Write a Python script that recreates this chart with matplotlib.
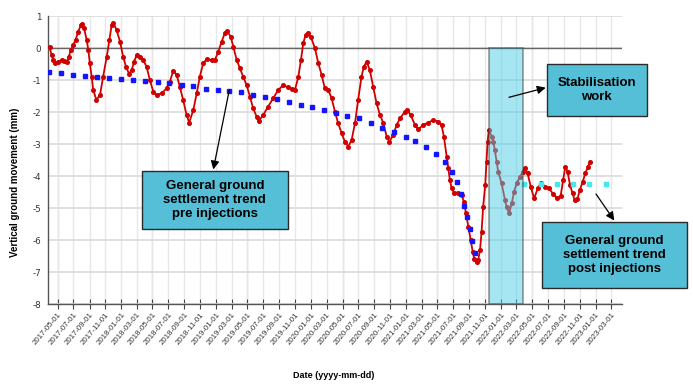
import numpy as np
import pandas as pd
import matplotlib
matplotlib.use('Agg')
import matplotlib.pyplot as plt
from matplotlib.patches import Rectangle, FancyArrowPatch

plt.rcParams['axes.unicode_minus'] = False

# Data ~~~~~~~~~~~~~~~~~~~~~~~~~~~~~~~~~~~~~~~~~~~~~~~~~~~~~~~~~~~~~~~~~~~~~~~~~~~~~~~~
start = pd.Timestamp('2017-05-01')

# measured vertical movement, days after 2017-05-01 and mm
red_day = [-31, -23, -17, -10, 2, 15, 25, 35, 43, 51, 60, 69, 79, 90, 95, 102, 112, 118, 124, 131,
           137, 149, 163, 175, 189, 199, 208, 214, 227, 240, 252, 263, 275, 285, 294, 304, 317, 329,
           342, 355, 368, 381, 400, 419, 432, 445, 458, 470, 483, 496, 506, 522, 535, 547, 560, 573,
           592, 605, 618, 631, 644, 652, 666, 676, 689, 701, 714, 727, 740, 752, 766, 774, 791, 810,
           829, 849, 868, 887, 902, 913, 926, 936, 945, 954, 962, 974, 990, 1003, 1016, 1028, 1041,
           1054, 1067, 1079, 1093, 1105, 1118, 1131, 1144, 1156, 1169, 1178, 1189, 1201, 1214, 1227,
           1240, 1253, 1266, 1276, 1291, 1304, 1317, 1336, 1345, 1358, 1375, 1387, 1406, 1426, 1445,
           1464, 1477, 1486, 1497, 1503, 1509, 1516, 1525, 1541, 1554, 1563, 1571, 1580, 1589, 1597,
           1603, 1612, 1618, 1625, 1631, 1637, 1645, 1650, 1654, 1659, 1670, 1676, 1682, 1689, 1695,
           1708, 1721, 1727, 1737, 1747, 1756, 1766, 1779, 1789, 1798, 1808, 1820, 1833, 1847, 1859,
           1876, 1891, 1907, 1922, 1935, 1945, 1953, 1962, 1971, 1981, 1989, 1999, 2009, 2020, 2030,
           2040, 2049]
red_mm = [0.02, -0.22, -0.375, -0.48, -0.43, -0.375, -0.40, -0.43, -0.27, -0.06, 0.09, 0.25, 0.51,
          0.72, 0.75, 0.61, 0.25, -0.06, -0.48, -0.9, -1.31, -1.62, -1.47, -0.9, -0.27, 0.25, 0.72,
          0.79, 0.56, 0.2, -0.27, -0.58, -0.81, -0.69, -0.43, -0.22, -0.27, -0.375, -0.58, -1.0,
          -1.36, -1.47, -1.42, -1.26, -1.05, -0.71, -0.84, -1.21, -1.625, -2.09, -2.33, -1.94, -1.42,
          -0.9, -0.48, -0.35, -0.375, -0.375, -0.115, 0.2, 0.48, 0.54, 0.35, 0.04, -0.375, -0.63,
          -0.9, -1.16, -1.52, -1.88, -2.15, -2.28, -2.09, -1.83, -1.57, -1.31, -1.16, -1.23, -1.29,
          -1.31, -0.9, -0.375, 0.15, 0.41, 0.48, 0.35, -0.01, -0.48, -0.85, -1.26, -1.31, -1.57,
          -1.99, -2.35, -2.67, -2.93, -3.08, -2.875, -2.35, -1.625, -0.9, -0.58, -0.43, -0.69, -1.21,
          -1.73, -2.09, -2.35, -2.77, -2.93, -2.72, -2.41, -2.2, -1.99, -1.94, -2.09, -2.41, -2.54,
          -2.41, -2.33, -2.25, -2.3, -2.41, -2.77, -3.4, -3.76, -4.125, -4.39, -4.52, -4.52, -4.6,
          -4.8, -5.17, -5.58, -6.0, -6.37, -6.6, -6.68, -6.625, -6.31, -5.74, -4.96, -4.28, -3.55,
          -2.93, -2.56, -2.77, -2.93, -3.19, -3.55, -3.87, -4.23, -4.75, -4.96, -5.17, -4.85, -4.49,
          -4.23, -4.02, -3.87, -3.76, -3.92, -4.33, -4.7, -4.39, -4.21, -4.33, -4.39, -4.57, -4.7,
          -4.625, -4.125, -3.71, -3.87, -4.28, -4.54, -4.75, -4.73, -4.44, -4.18, -3.92, -3.71, -3.55]

# trend before injections (blue dots)
pre_day = [-32, 14, 60, 105, 152, 199, 244, 291, 337, 385, 429, 477, 522, 569, 617, 660, 706, 751,
           797, 844, 890, 935, 979, 1024, 1071, 1114, 1159, 1204, 1248, 1294, 1339, 1375, 1417, 1454,
           1490, 1516, 1536, 1551, 1563, 1576, 1586, 1595, 1605]
pre_mm = [-0.75, -0.79, -0.83, -0.875, -0.92, -0.95, -0.97, -1.0, -1.03, -1.07, -1.09, -1.16, -1.2,
          -1.27, -1.32, -1.33, -1.375, -1.47, -1.53, -1.6, -1.69, -1.77, -1.85, -1.95, -2.02, -2.11,
          -2.2, -2.33, -2.49, -2.63, -2.78, -2.92, -3.1, -3.31, -3.57, -3.87, -4.2, -4.57, -4.94,
          -5.29, -5.66, -6.03, -6.4]

# trend after injections (cyan dots)
post_day = [1794, 1860, 1921, 1983, 2046, 2109]
post_mm = [-4.25, -4.25, -4.25, -4.25, -4.25, -4.25]

work_day = [1660, 1791]   # stabilisation work window
tick_dates = pd.date_range('2017-05-01', '2023-03-01', freq='2MS')

# Plot ~~~~~~~~~~~~~~~~~~~~~~~~~~~~~~~~~~~~~~~~~~~~~~~~~~~~~~~~~~~~~~~~~~~~~~~~~~~~~~~~
W, H = 693, 387
fig = plt.figure(figsize=(W / 100, H / 100), dpi=100)
ax = fig.add_axes([48 / W, 1 - 304 / H, (621.7 - 48) / W, (304 - 16) / H])

def days(d):
    return start + pd.to_timedelta(d, unit='D')

ax.plot(days(red_day), red_mm, color='#d10000', lw=1.3, marker='o', ms=2.6, zorder=3)
ax.plot(days(pre_day), pre_mm, ls='none', marker='s', ms=2.8, color='#1414ff', zorder=4)
ax.plot(days(post_day), post_mm, ls='none', marker='s', ms=3.0, color='#45e6ee', zorder=4)

ax.axvspan(days(work_day[0]), days(work_day[1]), ymin=0, ymax=8 / 9, facecolor='#4ccfe6',
           edgecolor='#333333', lw=1.2, alpha=0.5, zorder=5)
ax.axhline(0, color='#666666', lw=1.0, zorder=2)

ax.set_xlim(days(-37), days(2170))
ax.set_ylim(-8, 1)
ax.set_yticks(range(-8, 2))
ax.set_xticks(tick_dates)
ax.set_xticklabels([d.strftime('%Y-%m-%d') for d in tick_dates], rotation=50, ha='right',
                   rotation_mode='anchor', fontsize=5.7, color='#333333',
                   family=['Liberation Sans Narrow', 'Liberation Sans'])
for lab in ax.get_yticklabels():
    lab.set_fontsize(6.3)
    lab.set_color('#333333')
ax.tick_params(axis='x', direction='inout', length=7, width=0.8, color='#444444', pad=2)
ax.tick_params(axis='y', length=0, pad=5)

ax.grid(axis='y', color='#dddddd', lw=1.3)
ax.grid(axis='x', color='#e8e8e8', lw=1.0)
# slightly darker gridline at each May tick
for d in tick_dates:
    if d.month == 5:
        ax.axvline(d, color='#d2d2d2', lw=1.0, zorder=0.5)
ax.set_axisbelow(True)
for s in ['top', 'right']:
    ax.spines[s].set_visible(False)
for s in ['left', 'bottom']:
    ax.spines[s].set_color('#555555')
    ax.spines[s].set_linewidth(1.0)

fig.text(15 / W, 1 - 182 / H, 'Vertical ground movement (mm)', rotation=90, ha='center',
         va='center', fontsize=7, fontweight='bold', family='Liberation Sans')
fig.text(334 / W, 1 - 375 / H, 'Date (yyyy-mm-dd)', ha='center', va='center', fontsize=6.5,
         fontweight='bold', family=['Liberation Sans Narrow', 'Liberation Sans'])

# annotation boxes (pixel layout)
def fx(px):
    return px / W

def fy(py):
    return 1 - py / H

boxes = [
    (141.7, 170.7, 288, 229.3, 'General ground\nsettlement trend\npre injections'),
    (546.7, 64.3, 646.7, 116, 'Stabilisation\nwork'),
    (542.3, 221.7, 686.7, 288.3, 'General ground\nsettlement trend\npost injections'),
]
for x0, y0, x1, y1, txt in boxes:
    fig.patches.append(Rectangle((fx(x0), fy(y1)), fx(x1) - fx(x0), fy(y0) - fy(y1),
                                 transform=fig.transFigure, facecolor='#55bfd7',
                                 edgecolor='#2a2a2a', lw=1.0, zorder=10))
    fig.text(fx((x0 + x1) / 2), fy((y0 + y1) / 2), txt, ha='center', va='center',
             fontsize=9.5, fontweight='bold', family='Liberation Sans', linespacing=1.2,
             zorder=11)

arrows = [((229.3, 90), (213.3, 169.5)), ((509, 97.3), (545.7, 87.7)), ((596, 194), (614.3, 220.5))]
for (x0, y0), (x1, y1) in arrows:
    fig.add_artist(FancyArrowPatch(
        (fx(x0), fy(y0)), (fx(x1), fy(y1)), transform=fig.transFigure,
        arrowstyle='-|>,head_length=5,head_width=2.5', color='black', lw=0.9,
        shrinkA=0, shrinkB=0, zorder=12))

fig.savefig('out.png', dpi=100)
